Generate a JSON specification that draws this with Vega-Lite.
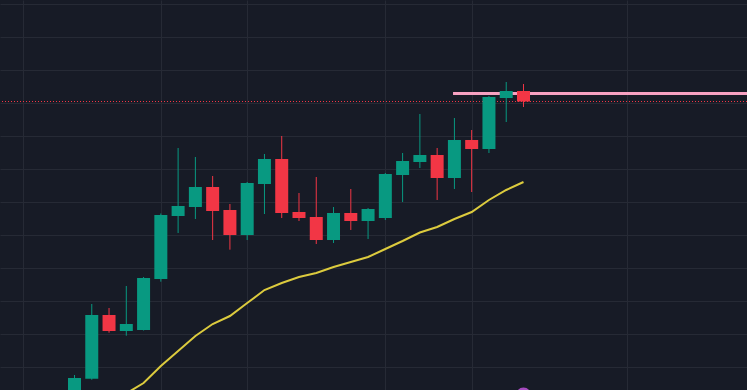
{
  "$schema": "https://vega.github.io/schema/vega-lite/v6.json",
  "width": 747,
  "height": 390,
  "padding": 0,
  "autosize": {"type": "fit", "contains": "padding"},
  "background": "#171b26",
  "config": {"view": {"stroke": null}, "scale": {"continuousPadding": 0}},
  "datasets": {
    "candles": [
      {"i": 0, "open": 0.0, "close": 6.67, "high": 7.58, "low": -1.52},
      {"i": 1, "open": 6.45, "close": 25.76, "high": 29.09, "low": 6.15},
      {"i": 2, "open": 25.76, "close": 20.91, "high": 27.88, "low": 20.39},
      {"i": 3, "open": 20.91, "close": 23.03, "high": 34.55, "low": 19.48},
      {"i": 4, "open": 21.21, "close": 36.97, "high": 37.27, "low": 21.06},
      {"i": 5, "open": 36.67, "close": 56.06, "high": 56.52, "low": 35.85},
      {"i": 6, "open": 55.76, "close": 58.79, "high": 76.36, "low": 50.61},
      {"i": 7, "open": 58.48, "close": 64.55, "high": 73.64, "low": 54.85},
      {"i": 8, "open": 64.55, "close": 57.27, "high": 67.88, "low": 48.48},
      {"i": 9, "open": 57.58, "close": 50.0, "high": 59.39, "low": 45.55},
      {"i": 10, "open": 50.0, "close": 65.76, "high": 66.06, "low": 48.48},
      {"i": 11, "open": 65.45, "close": 73.03, "high": 74.55, "low": 56.36},
      {"i": 12, "open": 73.03, "close": 56.67, "high": 80.0, "low": 55.15},
      {"i": 13, "open": 56.97, "close": 55.15, "high": 62.73, "low": 54.24},
      {"i": 14, "open": 55.45, "close": 48.48, "high": 67.58, "low": 47.27},
      {"i": 15, "open": 48.48, "close": 56.67, "high": 58.48, "low": 47.58},
      {"i": 16, "open": 56.67, "close": 54.24, "high": 63.94, "low": 51.52},
      {"i": 17, "open": 54.24, "close": 57.88, "high": 58.18, "low": 48.79},
      {"i": 18, "open": 55.15, "close": 68.48, "high": 68.79, "low": 54.55},
      {"i": 19, "open": 68.18, "close": 72.42, "high": 74.85, "low": 60.0},
      {"i": 20, "open": 72.12, "close": 74.24, "high": 86.67, "low": 70.3},
      {"i": 21, "open": 74.24, "close": 67.27, "high": 76.36, "low": 60.61},
      {"i": 22, "open": 67.27, "close": 78.79, "high": 85.45, "low": 63.94},
      {"i": 23, "open": 78.79, "close": 76.06, "high": 81.82, "low": 63.03},
      {"i": 24, "open": 76.06, "close": 91.82, "high": 92.12, "low": 74.85},
      {"i": 25, "open": 91.52, "close": 93.64, "high": 96.36, "low": 84.24},
      {"i": 26, "open": 93.64, "close": 90.45, "high": 95.76, "low": 88.79}
    ],
    "ma": [
      {"i": 3, "ma": 2.0},
      {"i": 4, "ma": 5.15},
      {"i": 5, "ma": 10.3},
      {"i": 6, "ma": 14.85},
      {"i": 7, "ma": 19.39},
      {"i": 8, "ma": 23.03},
      {"i": 9, "ma": 25.45},
      {"i": 10, "ma": 29.39},
      {"i": 11, "ma": 33.33},
      {"i": 12, "ma": 35.45},
      {"i": 13, "ma": 37.27},
      {"i": 14, "ma": 38.48},
      {"i": 15, "ma": 40.3},
      {"i": 16, "ma": 41.82},
      {"i": 17, "ma": 43.33},
      {"i": 18, "ma": 45.76},
      {"i": 19, "ma": 48.18},
      {"i": 20, "ma": 50.76},
      {"i": 21, "ma": 52.42},
      {"i": 22, "ma": 54.85},
      {"i": 23, "ma": 56.97},
      {"i": 24, "ma": 60.61},
      {"i": 25, "ma": 63.64},
      {"i": 26, "ma": 66.06}
    ],
    "lastPrice": [{"price": 90.45}],
    "level": [{"start": 21.92, "end": 40, "price": 92.88}],
    "marker": [{"i": 26, "price": 1.36}]
  },
  "layer": [
    {
      "data": {"name": "lastPrice"},
      "mark": {"type": "rule", "color": "#f23645", "strokeWidth": 1, "strokeDash": [1, 2], "clip": true},
      "encoding": {
        "y": {
          "field": "price", "type": "quantitative",
          "scale": {"domain": [3.0303, 121.2121], "nice": false, "zero": false, "padding": 0},
          "axis": {"values": [10, 20, 30, 40, 50, 60, 70, 80, 90, 100, 110, 120], "tickCount": 40, "labels": false, "ticks": false, "domain": false, "title": null, "grid": true, "gridColor": "#262a35", "gridWidth": 1}
        }
      }
    },
    {
      "data": {"name": "level"},
      "mark": {"type": "rule", "color": "#f7a1c1", "strokeWidth": 3, "clip": true},
      "encoding": {
        "x": {
          "field": "start", "type": "quantitative",
          "scale": {"domain": [-4.314, 38.943], "nice": false, "zero": false, "padding": 0},
          "axis": {"values": [-3, 5, 10, 18, 23, 32], "tickCount": 40, "labels": false, "ticks": false, "domain": false, "title": null, "grid": true, "gridColor": "#262a35", "gridWidth": 1}
        },
        "x2": {"field": "end"},
        "y": {"field": "price", "type": "quantitative"}
      }
    },
    {
      "data": {"name": "candles"},
      "mark": {"type": "rule", "strokeWidth": 1, "clip": true},
      "encoding": {
        "x": {"field": "i", "type": "quantitative"},
        "y": {"field": "low", "type": "quantitative"},
        "y2": {"field": "high"},
        "color": {"condition": {"test": "datum.close > datum.open", "value": "#089981"}, "value": "#f23645"}
      }
    },
    {
      "data": {"name": "candles"},
      "mark": {"type": "bar", "size": 13, "clip": true},
      "encoding": {
        "x": {"field": "i", "type": "quantitative"},
        "y": {"field": "open", "type": "quantitative"},
        "y2": {"field": "close"},
        "color": {"condition": {"test": "datum.close > datum.open", "value": "#089981"}, "value": "#f23645"}
      }
    },
    {
      "data": {"name": "ma"},
      "mark": {"type": "line", "color": "#dccb3e", "strokeWidth": 2, "clip": true},
      "encoding": {
        "x": {"field": "i", "type": "quantitative"},
        "y": {"field": "ma", "type": "quantitative"}
      }
    },
    {
      "data": {"name": "marker"},
      "mark": {"type": "point", "shape": "circle", "filled": true, "size": 250, "color": "#a64bc0", "opacity": 1, "clip": true},
      "encoding": {
        "x": {"field": "i", "type": "quantitative"},
        "y": {"field": "price", "type": "quantitative"}
      }
    }
  ]
}
